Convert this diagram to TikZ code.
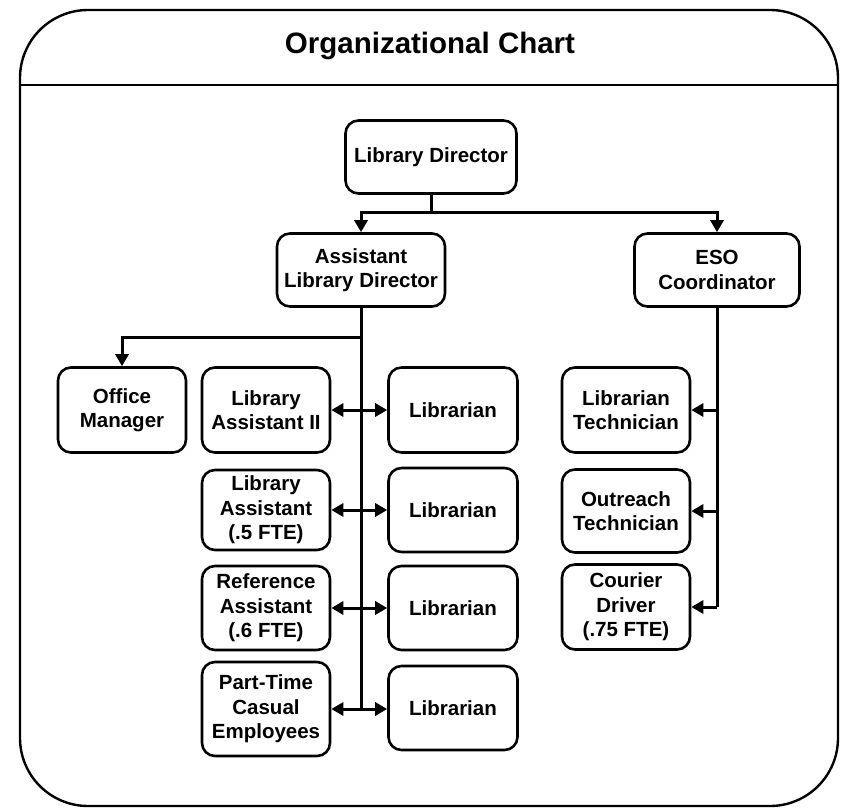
\documentclass[tikz,border=0pt]{standalone}
\usepackage{fontspec}
\setmainfont{Liberation Sans}
\usetikzlibrary{arrows.meta}
\begin{document}
\begin{tikzpicture}[x=1pt,y=-1pt,
  box/.style={draw, line width=2.6pt, rounded corners=13pt, align=center, inner sep=1pt,
    font=\fontsize{20.5}{24.5}\selectfont\bfseries, fill=white},
  conn/.style={line width=3pt},
  tip/.style={conn, -{Triangle[length=12pt,width=13pt]}},
  dtip/.style={conn, {Triangle[length=12pt,width=13pt]}-{Triangle[length=12pt,width=13pt]}}
]
\useasboundingbox (0,0) rectangle (841,808);
% frame
\draw[line width=2.4pt, rounded corners=68pt] (20,806) -- (20,10) -- (838,10) -- (838,806) -- cycle;
\draw[line width=2.4pt] (20,85) -- (838,85);
\node[font=\fontsize{29.5}{34}\selectfont\bfseries] (title) at (430,46) {Organizational Chart};

% nodes
\node[box, minimum width=171pt, minimum height=73pt] (ld) at (431,157) {Library Director};
\node[box, minimum width=168pt, minimum height=73pt] (ald) at (361,270) {Assistant\\Library Director};
\node[box, minimum width=165pt, minimum height=73pt] (eso) at (717,270) {ESO\\Coordinator};

\node[box, minimum width=128pt, minimum height=85pt] (om) at (122,410) {Office\\Manager};
\node[box, minimum width=128pt, minimum height=85pt] (la2) at (266,410) {Library\\Assistant II};
\node[box, minimum width=129pt, minimum height=85pt] (lib1) at (453,410) {Librarian};

\node[box, minimum width=128pt, minimum height=80pt] (la5) at (266,510) {Library\\Assistant\\(.5 FTE)};
\node[box, minimum width=129pt, minimum height=84pt] (lib2) at (453,510) {Librarian};

\node[box, minimum width=128pt, minimum height=84pt] (ra) at (266,608) {Reference\\Assistant\\(.6 FTE)};
\node[box, minimum width=129pt, minimum height=84pt] (lib3) at (453,608) {Librarian};

\node[box, minimum width=128pt, minimum height=94pt] (pt) at (266,709) {Part-Time\\Casual\\Employees};
\node[box, minimum width=129pt, minimum height=84pt] (lib4) at (453,708) {Librarian};

\node[box, minimum width=128pt, minimum height=85pt] (lt) at (626,410) {Librarian\\Technician};
\node[box, minimum width=128pt, minimum height=83pt] (ot) at (626,511) {Outreach\\Technician};
\node[box, minimum width=128pt, minimum height=85pt] (cd) at (626,607) {Courier\\Driver\\(.75 FTE)};

% connectors
\coordinate (j1) at (431,212);
\draw[conn] (ld.south) -- (j1);
\draw[tip] (j1) -| (ald.north);
\draw[tip] (j1) -| (eso.north);

\draw[conn] (ald.south) -- (ald.south |- pt.east);
\coordinate (j2) at (361,337);
\draw[tip] (j2) -| (om.north);

\draw[dtip] (la2.east) -- (la2.east -| lib1.west);
\draw[dtip] (la5.east) -- (la5.east -| lib2.west);
\draw[dtip] (ra.east) -- (ra.east -| lib3.west);
\draw[dtip] (pt.east) -- (pt.east -| lib4.west);

\draw[conn] (eso.south) -- (eso.south |- cd.east);
\draw[tip] (eso.south |- lt.east) -- (lt.east);
\draw[tip] (eso.south |- ot.east) -- (ot.east);
\draw[tip] (eso.south |- cd.east) -- (cd.east);
\end{tikzpicture}
\end{document}
